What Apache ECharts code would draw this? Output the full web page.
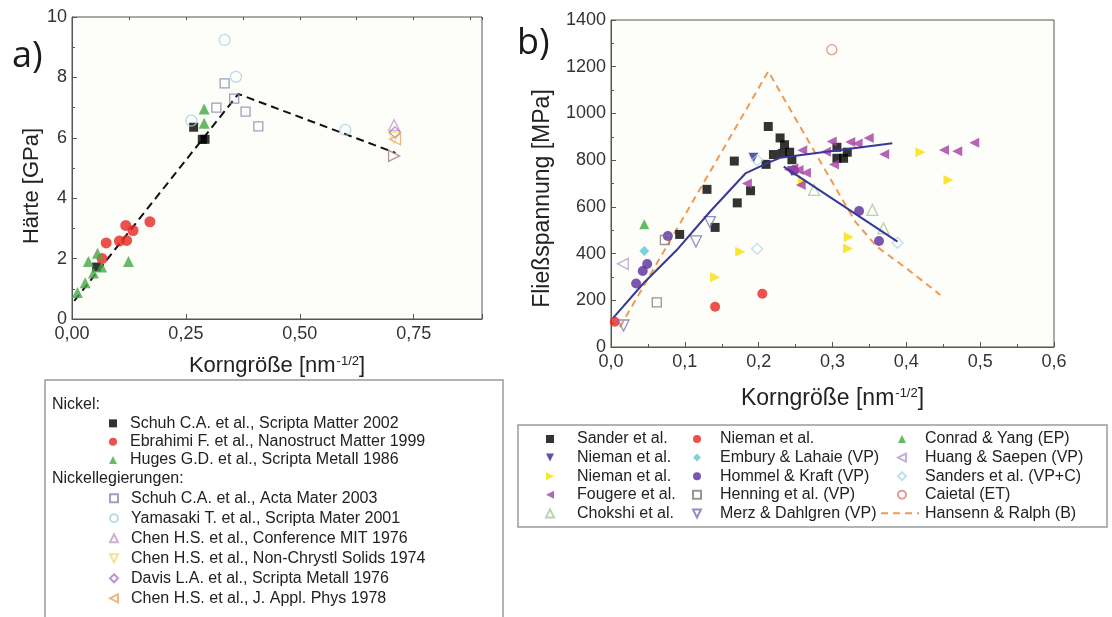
<!DOCTYPE html>
<html><head><meta charset="utf-8">
<script src="https://cdn.jsdelivr.net/npm/echarts@6/dist/echarts.min.js"></script>
<style>html,body{margin:0;padding:0;background:#fff}#c{width:1112px;height:617px}</style>
</head><body><div id="c"></div>
<script>
// ---------- Panel a data (x: Korngröße nm^-1/2, y: Härte GPa) ----------
const aSchuh2002 = [[0.054,1.72],[0.267,6.35],[0.286,5.95],[0.292,5.95]];
const aEbrahimi = [[0.066,2.0],[0.075,2.52],[0.104,2.58],[0.12,2.6],[0.118,3.1],[0.134,2.93],[0.171,3.22]];
const aHuges = [[0.012,0.88],[0.029,1.2],[0.036,1.9],[0.047,1.52],[0.056,2.18],[0.065,1.72],[0.124,1.9],[0.29,6.95],[0.29,6.48]];
const aSchuh2003 = [[0.317,7.0],[0.335,7.8],[0.356,7.3],[0.381,6.87],[0.409,6.38]];
const aYamasaki = [[0.262,6.57],[0.335,9.24],[0.36,8.02],[0.6,6.26]];
const aChenMIT = [[0.707,6.42]];
const aChenNC = [[0.707,6.0]];
const aChenNCright = [[0.707,5.4]];
const aDavis = [[0.709,6.18]];
const aChenJAP = [[0.709,5.95]];
const aFit = [[0.005,0.6],[0.365,7.45],[0.71,5.5]];
const aXTicks = [0, 0.25, 0.5, 0.75];
const aYTicks = [0, 2, 4, 6, 8, 10];

// ---------- Panel b data (x: Korngröße nm^-1/2, y: Fließspannung MPa) ----------
const bSander = [[0.093,482],[0.130,675],[0.141,512],[0.167,796],[0.171,617],[0.189,669],[0.210,782],[0.213,944],[0.220,824],[0.229,895],[0.235,866],[0.232,829],[0.242,834],[0.245,802],[0.306,855],[0.306,808],[0.315,808],[0.320,834]];
const bNiemanRed = [[0.005,108],[0.141,172],[0.205,228]];
const bConrad = [[0.045,526]];
const bNiemanBlue = [[0.193,810],[0.245,752]];
const bEmbury = [[0.045,411]];
const bHuang = [[0.016,356]];
const bNiemanYellow = [[0.141,299],[0.175,408],[0.26,706],[0.322,471],[0.321,422],[0.419,834],[0.457,715]];
const bHommel = [[0.034,272],[0.043,325],[0.049,355],[0.077,475],[0.248,756],[0.336,582],[0.363,454]];
const bSanders = [[0.198,420],[0.198,800],[0.388,446]];
const bFougere = [[0.184,700],[0.241,760],[0.247,765],[0.254,758],[0.264,746],[0.257,694],[0.259,842],[0.291,836],[0.299,880],[0.302,781],[0.324,878],[0.334,871],[0.349,895],[0.370,825],[0.451,843],[0.469,838],[0.492,875]];
const bHenning = [[0.062,191],[0.073,458]];
const bCaietal = [[0.299,1273]];
const bChokshi = [[0.275,673],[0.354,587],[0.369,508]];
const bMerz = [[0.017,92],[0.115,452],[0.134,535]];
const bHansen = [[0.012,85],[0.213,1180],[0.277,829],[0.331,536],[0.36,430],[0.403,330],[0.446,223]];
const bFit1 = [[0.003,125],[0.044,273],[0.089,415],[0.134,579],[0.182,743],[0.211,786],[0.229,810],[0.381,872]];
const bFit2 = [[0.234,772],[0.388,451]];
const bXTicks = [0, 0.1, 0.2, 0.3, 0.4, 0.5, 0.6];
const bYTicks = [0, 200, 400, 600, 800, 1000, 1200, 1400];

const FONT = '"Liberation Sans", Arial, sans-serif';
const chart = echarts.init(document.getElementById('c'), null, {renderer:'canvas'});

const TRI_DOWN = 'path://M0,0L10,0L5,10Z';
const TRI_LEFT = 'path://M10,0L10,10L0,5Z';
const TRI_RIGHT = 'path://M0,0L10,5L0,10Z';

function open(color, bw){ return {color:'rgba(255,255,255,0)', borderColor:color, borderWidth:bw||1.3}; }
function sc(name, data, symbol, size, itemStyle, rot, ax){
  return {type:'scatter', name:name, data:data, symbol:symbol, symbolSize:size,
    symbolRotate:rot||0, itemStyle:itemStyle, xAxisIndex:ax, yAxisIndex:ax,
    emphasis:{disabled:true}, z:3};
}
const axisTxt = {color:'#333', fontSize:18, fontFamily:FONT};
const nameRich = {sup:{fontSize:13, fontFamily:FONT, color:'#222', verticalAlign:'top', lineHeight:13, padding:[0,0,10,1]}};

const series = [
  // panel a
  {type:'line', name:'fitA', data:aFit, xAxisIndex:0, yAxisIndex:0, symbol:'none', z:2,
    lineStyle:{color:'#111', width:2, type:[8,5]}, emphasis:{disabled:true}},
  sc('Schuh C.A. et al., Scripta Matter 2002', aSchuh2002, 'rect', 9, {color:'#000'}, 0, 0),
  sc('Ebrahimi F. et al., Nanostruct Matter 1999', aEbrahimi, 'circle', 11, {color:'#e8261f'}, 0, 0),
  sc('Huges G.D. et al., Scripta Metall 1986', aHuges, 'triangle', 11, {color:'#45a845'}, 0, 0),
  sc('Schuh C.A. et al., Acta Mater 2003', aSchuh2003, 'rect', 9, open('#8a86b0'), 0, 0),
  sc('Yamasaki T. et al., Scripta Mater 2001', aYamasaki, 'circle', 11, open('#a6d3de'), 0, 0),
  sc('Chen H.S. et al., Conference MIT 1976', aChenMIT, 'triangle', 11, open('#c59ac8'), 0, 0),
  sc('Chen H.S. et al., Non-Chrystl Solids 1974', aChenNC, 'triangle', 11, open('#eedc7a'), 180, 0),
  sc('extraA', aChenNCright, 'triangle', 11, open('#a07a88'), -90, 0),
  sc('Davis L.A. et al., Scripta Metall 1976', aDavis, 'diamond', 11, open('#a47cc6'), 0, 0),
  sc('Chen H.S. et al., J. Appl. Phys 1978', aChenJAP, 'triangle', 11, open('#e8a567'), 90, 0),
  // panel b
  {type:'line', name:'Hansenn & Ralph (B)', data:bHansen, xAxisIndex:1, yAxisIndex:1, symbol:'none', z:2,
    lineStyle:{color:'#ef9a55', width:2, type:[7,5]}, itemStyle:{color:'#ef9a55'}, emphasis:{disabled:true}},
  sc('Sander et al.', bSander, 'rect', 9, {color:'#000'}, 0, 1),
  sc('Nieman et al.#red', bNiemanRed, 'circle', 10, {color:'#e8261f'}, 0, 1),
  sc('Conrad & Yang (EP)', bConrad, 'triangle', 10, {color:'#3fa83f'}, 0, 1),
  sc('Nieman et al.#blue', bNiemanBlue, 'triangle', 10, {color:'#2c2c8c'}, 180, 1),
  sc('Embury & Lahaie (VP)', bEmbury, 'diamond', 10, {color:'#5cc6d2'}, 0, 1),
  sc('Huang & Saepen (VP)', bHuang, 'triangle', 11, open('#b49cc8'), 90, 1),
  sc('Nieman et al.#yellow', bNiemanYellow, 'triangle', 10, {color:'#f7e000'}, -90, 1),
  sc('Hommel & Kraft (VP)', bHommel, 'circle', 10, {color:'#5a2c9c'}, 0, 1),
  sc('Sanders et al. (VP+C)', bSanders, 'diamond', 11, open('#b0d6e6'), 0, 1),
  sc('Fougere et al.', bFougere, 'triangle', 10, {color:'#a23ea2'}, 90, 1),
  sc('Henning et al. (VP)', bHenning, 'rect', 9, open('#7a7a7a'), 0, 1),
  sc('Caietal (ET)', bCaietal, 'circle', 10, open('#e08070'), 0, 1),
  sc('Chokshi et al.', bChokshi, 'triangle', 11, open('#a6c89c'), 0, 1),
  sc('Merz & Dahlgren (VP)', bMerz, 'triangle', 11, open('#7a70b2'), 180, 1),
  {type:'line', name:'fitB1', data:bFit1, xAxisIndex:1, yAxisIndex:1, symbol:'none', z:4,
    lineStyle:{color:'#38389a', width:2}, emphasis:{disabled:true}},
  {type:'line', name:'fitB2', data:bFit2, xAxisIndex:1, yAxisIndex:1, symbol:'none', z:4,
    lineStyle:{color:'#38389a', width:2}, emphasis:{disabled:true}}
];

function legendBase(extra){
  return Object.assign({orient:'vertical', padding:0, itemGap:0, selectedMode:false,
    itemWidth:8, itemHeight:8, formatter:n=>n.split('#')[0],
    textStyle:{fontSize:16, fontFamily:FONT, color:'#222', lineHeight:18.6}}, extra);
}
function ts(lh, pad){ return {fontSize:16, fontFamily:FONT, color:'#222', lineHeight:lh, padding:[0,0,0,pad]}; }

const option = {
  animation:false,
  backgroundColor:'#fff',
  grid:[
    {left:72, top:17, width:410, height:302, show:true, backgroundColor:'#fdfdf9', borderColor:'#555', borderWidth:1, outerBoundsMode:'none'},
    {left:611, top:20, width:443, height:327, show:true, backgroundColor:'#fdfdf9', borderColor:'#555', borderWidth:1, outerBoundsMode:'none'}
  ],
  xAxis:[
    {type:'value', gridIndex:0, min:aXTicks[0], max:0.9, interval:0.25,
      axisLine:{show:true, lineStyle:{color:'#555'}}, splitLine:{show:false},
      axisTick:{inside:true, length:5, lineStyle:{color:'#555'}},
      axisLabel:Object.assign({margin:6, showMaxLabel:true, formatter:v=>aXTicks.some(t=>Math.abs(t-v)<1e-6)?v.toFixed(2).replace('.',','):''}, axisTxt),
      name:'Korngröße [nm{sup|-1/2}]', nameLocation:'middle', nameGap:36,
      nameTextStyle:{fontSize:22, fontFamily:FONT, color:'#222', rich:nameRich}},
    {type:'value', gridIndex:1, min:bXTicks[0], max:bXTicks[bXTicks.length-1], interval:0.1,
      axisLine:{show:true, lineStyle:{color:'#555'}}, splitLine:{show:false},
      axisTick:{inside:true, length:5, lineStyle:{color:'#555'}},
      minorTick:{show:true, splitNumber:2, length:3, lineStyle:{color:'#555'}},
      axisLabel:Object.assign({margin:6, formatter:v=>v.toFixed(1).replace('.',',')}, axisTxt),
      name:'Korngröße [nm{sup|-1/2}]', nameLocation:'middle', nameGap:40,
      nameTextStyle:{fontSize:23, fontFamily:FONT, color:'#222', rich:nameRich}},
    {type:'value', gridIndex:0, min:0, max:0.9, interval:0.125,
      axisLine:{show:false}, splitLine:{show:false}, axisLabel:{show:false},
      axisTick:{inside:true, length:3, lineStyle:{color:'#555'}}}
  ],
  yAxis:[
    {type:'value', gridIndex:0, min:aYTicks[0], max:aYTicks[aYTicks.length-1], interval:2,
      axisLine:{show:true, lineStyle:{color:'#555'}}, splitLine:{show:false},
      axisTick:{inside:true, length:5, lineStyle:{color:'#555'}},
      minorTick:{show:true, splitNumber:2, length:3, lineStyle:{color:'#555'}},
      axisLabel:Object.assign({margin:5, formatter:v=>String(v)}, axisTxt),
      name:'Härte [GPa]', nameLocation:'middle', nameGap:29,
      nameTextStyle:{fontSize:22, fontFamily:FONT, color:'#222', padding:[0,36,0,0]}},
    {type:'value', gridIndex:1, min:bYTicks[0], max:bYTicks[bYTicks.length-1], interval:200,
      axisLine:{show:true, lineStyle:{color:'#555'}}, splitLine:{show:false},
      axisTick:{inside:true, length:5, lineStyle:{color:'#555'}},
      minorTick:{show:true, splitNumber:2, length:3, lineStyle:{color:'#555'}},
      axisLabel:Object.assign({margin:5, formatter:v=>String(v)}, axisTxt),
      name:'Fließspannung [MPa]', nameLocation:'middle', nameGap:57,
      nameTextStyle:{fontSize:23, fontFamily:FONT, color:'#222', padding:[0,30,0,0]}}
  ],
  legend:[
    legendBase({left:109, top:414.2, textStyle:ts(18.3,8), data:[
      'Schuh C.A. et al., Scripta Matter 2002','Ebrahimi F. et al., Nanostruct Matter 1999','Huges G.D. et al., Scripta Metall 1986']}),
    legendBase({left:109, top:488.3, textStyle:ts(20,8), data:[
      'Schuh C.A. et al., Acta Mater 2003','Yamasaki T. et al., Scripta Mater 2001','Chen H.S. et al., Conference MIT 1976',
      {name:'Chen H.S. et al., Non-Chrystl Solids 1974', icon:TRI_DOWN},'Davis L.A. et al., Scripta Metall 1976',
      {name:'Chen H.S. et al., J. Appl. Phys 1978', icon:TRI_LEFT}]}),
    legendBase({left:545, top:429.7, textStyle:ts(18.6,18), data:[
      'Sander et al.',{name:'Nieman et al.#blue', icon:TRI_DOWN},{name:'Nieman et al.#yellow', icon:TRI_RIGHT},
      {name:'Fougere et al.', icon:TRI_LEFT},'Chokshi et al.']}),
    legendBase({left:692, top:429.7, textStyle:ts(18.6,14), data:[
      'Nieman et al.#red','Embury & Lahaie (VP)','Hommel & Kraft (VP)','Henning et al. (VP)',
      {name:'Merz & Dahlgren (VP)', icon:TRI_DOWN}]}),
    legendBase({left:897, top:429.7, textStyle:ts(18.6,14), data:[
      'Conrad & Yang (EP)',{name:'Huang & Saepen (VP)', icon:TRI_LEFT},'Sanders et al. (VP+C)','Caietal (ET)']}),
    legendBase({left:880, top:504, itemWidth:38, itemHeight:8, textStyle:ts(18.6,1), data:[
      {name:'Hansenn & Ralph (B)', itemStyle:{opacity:0}}]})
  ],
  graphic:[
    {type:'rect', shape:{x:45, y:380, width:458, height:250}, style:{fill:'#fff', stroke:'#9a9a9a', lineWidth:1.5}, z:-1, silent:true},
    {type:'rect', shape:{x:518, y:425, width:589, height:102}, style:{fill:'#fff', stroke:'#9a9a9a', lineWidth:1.5}, z:-1, silent:true},
    {type:'text', x:52, y:405, style:{text:'Nickel:', font:'16px '+FONT, fill:'#222', verticalAlign:'middle'}, silent:true},
    {type:'text', x:52, y:478.3, style:{text:'Nickellegierungen:', font:'16px '+FONT, fill:'#222', verticalAlign:'middle'}, silent:true},
    {type:'text', x:12, y:57, style:{text:'a)', font:'36px "Open Sans", sans-serif', fill:'#1a1a1a', verticalAlign:'middle'}, silent:true},
    {type:'text', x:517, y:44, style:{text:'b)', font:'36px "Open Sans", sans-serif', fill:'#1a1a1a', verticalAlign:'middle'}, silent:true}
  ],
  series:series
};
chart.setOption(option);
</script></body></html>
